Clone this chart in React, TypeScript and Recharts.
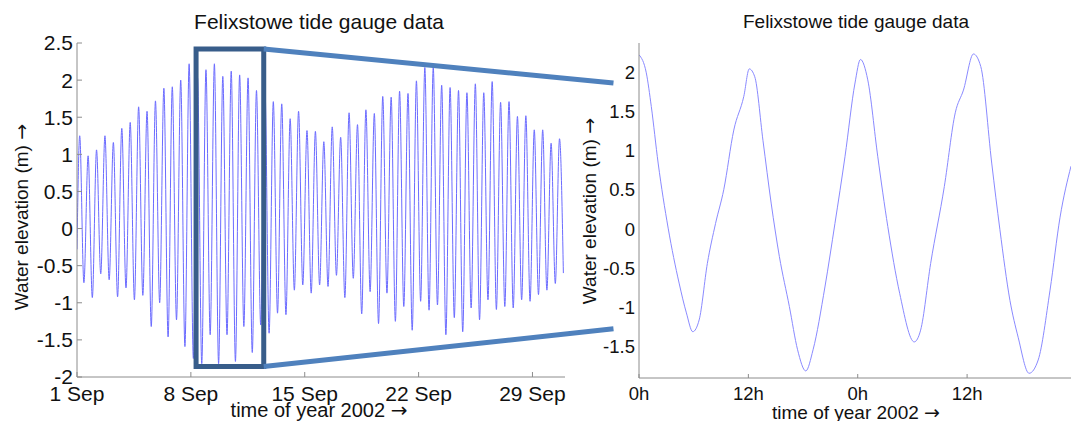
import React from 'react'
import {
  LineChart,
  Line,
  XAxis,
  YAxis,
  ReferenceArea,
  ReferenceLine
} from 'recharts'

// month view: high / low water levels (m)
const HIGH_WATER = [
  1.25, 0.98, 1.06, 1.25, 1.16, 1.35, 1.43, 1.64, 1.58, 1.72,
  1.89, 1.91, 2.0, 2.22, 2.03, 2.14, 2.22, 2.05, 2.12, 2.07,
  2.03, 1.86, 1.9, 1.71, 1.68, 1.48, 1.58, 1.32, 1.31, 1.17,
  1.37, 1.23, 1.56, 1.4, 1.6, 1.55, 1.78, 1.77, 1.85, 1.82,
  1.99, 2.17, 2.17, 1.93, 1.9, 1.86, 1.83, 1.95, 1.83, 1.98,
  1.7, 1.71, 1.51, 1.52, 1.33, 1.33, 1.15, 1.21
]
const LOW_WATER = [
  -0.73, -0.93, -0.61, -0.69, -0.92, -0.8, -0.96, -0.9, -1.32, -1.0,
  -1.46, -1.23, -1.59, -1.75, -1.82, -1.43, -1.82, -1.43, -1.79, -1.32,
  -1.67, -1.3, -1.41, -1.14, -1.16, -0.83, -0.76, -0.87, -0.76, -0.78,
  -0.63, -0.93, -0.67, -1.15, -0.85, -1.28, -0.87, -1.25, -1.05, -1.37,
  -0.98, -1.1, -1.03, -1.43, -1.2, -1.39, -1.07, -1.23, -0.96, -1.09,
  -1.05, -1.07, -0.96, -0.98, -0.89, -0.83, -0.74
]
const START_LEVEL = -0.28
const END_LEVEL = -0.6
const END_DAY = 29.9
const FIRST_HIGH_DAY = 0.166
const TIDE_PERIOD_DAYS = 12.42 / 24

const MONTH_TICKS = [0, 7, 14, 21, 28]
const MONTH_LABELS = ['1 Sep', '8 Sep', '15 Sep', '22 Sep', '29 Sep']
const MONTH_Y_TICKS = [-2, -1.5, -1, -0.5, 0, 0.5, 1, 1.5, 2, 2.5]

// two-day zoom: hours and levels
const ZOOM_HOURS = [
  0, 0.8, 1.35, 2.1, 3.2, 4.4, 5.2, 5.9, 6.6, 7.5, 8.4, 9.3, 10.4, 11.5,
  12.1, 12.7, 13.6, 14.5, 15.4, 16.5, 17.4, 18.3, 19.1, 20.4, 21.5, 22.6,
  23.7, 24.3, 25.1, 26.2, 27.3, 28.6, 30.2, 30.9, 32.0, 33.5, 34.7, 35.6,
  36.7, 37.5, 38.7, 39.6, 40.7, 41.6, 42.8, 43.8, 45.1, 46.2, 47.4
]
const ZOOM_LEVELS = [
  2.22, 1.99, 1.56, 0.84, 0.01, -0.69, -1.07, -1.31, -1.16, -0.44, 0.07, 0.5, 1.26, 1.69,
  2.04, 1.94, 1.13, 0.33, -0.35, -0.99, -1.54, -1.81, -1.54, -0.74, 0.07, 0.92,
  1.86, 2.16, 1.9, 0.92, 0.03, -0.82, -1.44, -1.29, -0.44, 0.54, 1.48, 1.77,
  2.23, 2.07, 0.84, -0.01, -0.91, -1.38, -1.84, -1.67, -0.78, 0.15, 0.8
]
const ZOOM_TICKS = [0, 12, 24, 36]
const ZOOM_LABELS = ['0h', '12h', '0h', '12h']
const ZOOM_Y_TICKS = [-1.5, -1, -0.5, 0, 0.5, 1, 1.5, 2]

// zoom window (days / metres) and where the connectors land
const BOX = { x1: 7.32, x2: 11.48, y1: -1.86, y2: 2.42 }
const CONNECT_X = 32.98
const CONNECT_TOP = 1.96
const CONNECT_BOTTOM = -1.35

const monthData: { t: number; h: number }[] = [{ t: 0, h: START_LEVEL }]
HIGH_WATER.forEach((h, i) => {
  const tHigh = FIRST_HIGH_DAY + i * TIDE_PERIOD_DAYS
  if (i > 0) monthData.push({ t: tHigh - TIDE_PERIOD_DAYS / 2, h: LOW_WATER[i - 1] })
  monthData.push({ t: tHigh, h })
})
monthData.push({ t: END_DAY, h: END_LEVEL })

const zoomData = ZOOM_HOURS.map((t, i) => ({ t, h: ZOOM_LEVELS[i] }))

const FONT = '"Liberation Sans", Arial, sans-serif'
const AXIS = '#8c8c8c'

const textStyle = (
  left: number,
  top: number,
  size: number,
  rotate = false
): React.CSSProperties => ({
  position: 'absolute',
  left,
  top,
  fontFamily: FONT,
  fontSize: size,
  lineHeight: 1,
  color: '#111',
  whiteSpace: 'nowrap',
  transform: rotate ? 'translate(-50%, -50%) rotate(-90deg)' : 'translateX(-50%)'
})

// the arrow glyph is tiny in Liberation Sans, so take it from DejaVu
const Arrow = () => <span style={{ fontFamily: '"DejaVu Sans", sans-serif' }}>→</span>

export default function App() {
  return (
    <div style={{ position: 'absolute', left: 0, top: 0, width: 1071, height: 421, background: '#fff', overflow: 'hidden' }}>
      <div style={{ position: 'absolute', left: 0, top: 0 }}>
        <LineChart width={620} height={421} data={monthData} margin={{ top: 43, right: 55, bottom: 0, left: 0 }}>
          <XAxis
            type="number"
            dataKey="t"
            domain={[0, 30]}
            allowDataOverflow
            ticks={MONTH_TICKS}
            interval={0}
            tickFormatter={(v) => MONTH_LABELS[MONTH_TICKS.indexOf(v)] ?? ''}
            height={44}
            axisLine={{ stroke: AXIS }}
            tickLine={{ stroke: AXIS }}
            tickSize={-5}
            tickMargin={14}
            tick={{ fill: '#111', fontSize: 21, fontFamily: FONT }}
          />
          <YAxis
            type="number"
            domain={[-2, 2.5]}
            allowDataOverflow
            ticks={MONTH_Y_TICKS}
            interval={0}
            width={77}
            axisLine={{ stroke: AXIS }}
            tickLine={{ stroke: AXIS }}
            tickSize={-5}
            tickMargin={9}
            tick={{ fill: '#111', fontSize: 21, fontFamily: FONT }}
          />
          <Line
            type="monotone"
            dataKey="h"
            stroke="#6b6bff"
            strokeWidth={1}
            dot={false}
            isAnimationActive={false}
          />
          <ReferenceArea
            x1={BOX.x1}
            x2={BOX.x2}
            y1={BOX.y1}
            y2={BOX.y2}
            fill="none"
            stroke="#385d8a"
            strokeWidth={5}
            ifOverflow="visible"
            zIndex={1000}
          />
          <ReferenceLine
            segment={[{ x: BOX.x2, y: BOX.y2 }, { x: CONNECT_X, y: CONNECT_TOP }]}
            stroke="#4f81bd"
            strokeWidth={5}
            ifOverflow="visible"
            zIndex={1000}
          />
          <ReferenceLine
            segment={[{ x: BOX.x2, y: BOX.y1 }, { x: CONNECT_X, y: CONNECT_BOTTOM }]}
            stroke="#4f81bd"
            strokeWidth={5}
            ifOverflow="visible"
            zIndex={1000}
          />
        </LineChart>
      </div>

      <div style={{ position: 'absolute', left: 580, top: 0 }}>
        <LineChart width={491} height={421} data={zoomData} margin={{ top: 43, right: 0, bottom: 0, left: 0 }}>
          <XAxis
            type="number"
            dataKey="t"
            domain={[0, 47.4]}
            allowDataOverflow
            ticks={ZOOM_TICKS}
            interval={0}
            tickFormatter={(v) => ZOOM_LABELS[ZOOM_TICKS.indexOf(v)] ?? ''}
            height={43}
            axisLine={{ stroke: AXIS }}
            tickLine={{ stroke: AXIS }}
            tickSize={-4}
            tickMargin={13}
            tick={{ fill: '#111', fontSize: 18.5, fontFamily: FONT }}
          />
          <YAxis
            type="number"
            domain={[-1.9, 2.37]}
            allowDataOverflow
            ticks={ZOOM_Y_TICKS}
            interval={0}
            width={59}
            axisLine={{ stroke: AXIS }}
            tickLine={false}
            tickSize={0}
            tickMargin={4}
            tick={{ fill: '#111', fontSize: 18.5, fontFamily: FONT }}
          />
          <Line
            type="monotone"
            dataKey="h"
            stroke="#8a8aff"
            strokeWidth={1}
            dot={false}
            isAnimationActive={false}
          />
        </LineChart>
      </div>

      <div style={textStyle(319, 11, 21)}>Felixstowe tide gauge data</div>
      <div style={textStyle(856, 12, 19)}>Felixstowe tide gauge data</div>
      <div style={textStyle(21, 217, 19, true)}>Water elevation (m) <Arrow /></div>
      <div style={textStyle(589, 211, 19, true)}>Water elevation (m) <Arrow /></div>
      <div style={textStyle(319, 400, 20)}>time of year 2002 <Arrow /></div>
      <div style={textStyle(856, 403, 19)}>time of year 2002 <Arrow /></div>
    </div>
  )
}
